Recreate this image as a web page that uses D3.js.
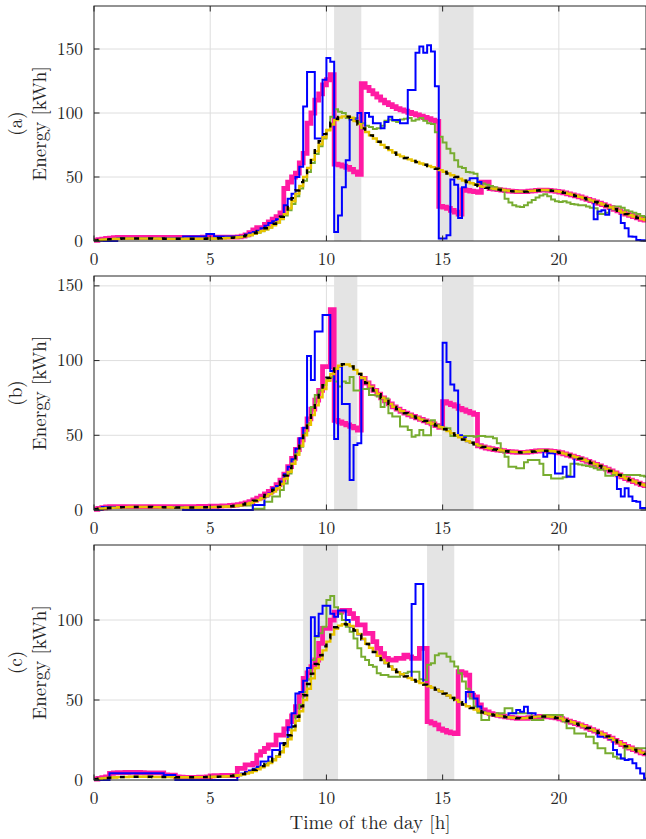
<!DOCTYPE html>
<html>
<head>
<meta charset="utf-8">
<script src="https://cdn.jsdelivr.net/npm/d3@7/dist/d3.min.js"></script>
<style>
  body { margin: 0; background: #fff; }
  svg { display: block; }
</style>
</head>
<body>
<svg id="chart" width="646" height="839"></svg>
<script>
// ---- data: energy per 10-minute interval [kWh], one row per hour ----
const stepHours = 1 / 6;
const xTicks = [0, 5, 10, 15, 20];

// reference forecast (black) and its companion (yellow), shared by all three scenarios
const forecast = [
  0.5, 0.8, 1.1, 1.3, 1.5, 1.7,
  1.8, 1.9, 1.9, 2.0, 2.0, 2.0,
  2.0, 2.0, 2.0, 1.9, 1.9, 1.9,
  1.8, 1.8, 1.8, 1.7, 1.7, 1.7,
  1.7, 1.7, 1.8, 1.8, 1.8, 1.9,
  2.0, 2.0, 2.1, 2.2, 2.3, 2.5,
  2.8, 3.2, 3.7, 4.4, 5.2, 6.3,
  7.5, 8.7, 10.0, 11.5, 13.5, 16.0,
  19, 23, 28, 33.5, 39.5, 46,
  53, 60, 66.5, 72.5, 78, 83.5,
  88.5, 92.5, 95.5, 97, 97.6, 97.2,
  96, 93.5, 91, 88, 85, 82.5,
  80, 77.5, 75, 73, 71, 69,
  67.5, 66, 64.8, 63.7, 62.6, 61.6,
  60.6, 59.6, 58.6, 57.6, 56.5, 55.3,
  54, 52.7, 51.3, 50, 48.6, 47.2,
  46, 45, 44, 43, 42.2, 41.5,
  41, 40.5, 40.1, 39.7, 39.3, 39,
  38.8, 38.6, 38.5, 38.6, 38.9, 39.2,
  39.5, 39.7, 39.7, 39.5, 39.2, 38.8,
  38.3, 37.6, 36.8, 36, 35.2, 34.4,
  33.5, 32.5, 31.5, 30.5, 29.5, 28.4,
  27.3, 26.1, 24.8, 23.5, 22.2, 21,
  20, 19, 18, 17, 16.3, 15.6
];
const forecastAlt = [
  0.4, 0.7, 1.0, 1.3, 1.5, 1.6,
  1.8, 1.8, 1.9, 2.0, 2.0, 2.0,
  2.0, 2.0, 1.9, 1.9, 1.9, 1.8,
  1.8, 1.8, 1.7, 1.7, 1.7, 1.7,
  1.7, 1.7, 1.7, 1.8, 1.8, 1.9,
  1.9, 2.0, 2.1, 2.2, 2.3, 2.4,
  2.7, 3.0, 3.4, 4.0, 4.7, 5.6,
  6.7, 7.9, 9.2, 10.6, 12.3, 14.5,
  17.3, 21, 25.5, 31, 37, 43,
  50, 57, 63.5, 70, 75.5, 81,
  86.5, 91, 94.5, 96.5, 97.4, 97.4,
  96.3, 93.8, 91.3, 88.3, 85.2, 82.6,
  80.1, 77.6, 75.1, 73.1, 71, 69.1,
  67.4, 66.1, 64.8, 63.8, 62.6, 61.7,
  60.6, 59.7, 58.6, 57.7, 56.5, 55.4,
  54.1, 52.8, 51.4, 50.1, 48.7, 47.3,
  46.1, 45.1, 44.1, 43.1, 42.3, 41.6,
  41.1, 40.6, 40.2, 39.8, 39.4, 39.1,
  38.9, 38.7, 38.6, 38.7, 39.0, 39.3,
  39.6, 39.8, 39.8, 39.6, 39.3, 38.9,
  38.4, 37.7, 36.9, 36.1, 35.3, 34.5,
  33.6, 32.6, 31.6, 30.6, 29.6, 28.5,
  27.4, 26.2, 24.9, 23.6, 22.3, 21.1,
  20.1, 19.1, 18.1, 17.1, 16.4, 15.7
];

// scenario (a)
const magentaA = [
  0.5, 1.0, 1.5, 2.0, 2.3, 2.6,
  2.8, 2.8, 2.9, 2.9, 2.9, 2.9,
  2.9, 2.9, 2.9, 2.9, 2.9, 2.9,
  2.9, 2.9, 2.9, 2.9, 2.9, 2.9,
  2.9, 2.9, 2.9, 2.9, 3.0, 3.0,
  3.0, 3.0, 3.0, 3.0, 3.0, 3.0,
  3.0, 3.3, 3.8, 4.8, 6.5, 8.6,
  10.4, 10.4, 13, 15, 17, 19,
  22, 41, 46, 50, 53, 61,
  68.5, 92, 100, 110, 115, 122,
  126, 130, 60, 59.5, 58.5, 57.5,
  56, 54, 52, 123, 120, 117.5,
  115, 112.5, 110, 108, 106.5, 105,
  103.5, 102.5, 101.5, 100.5, 99.5, 98.5,
  97.5, 96.5, 95.5, 94.5, 93.5, 27,
  26.5, 25.5, 24, 22.5, 21, 40,
  39.5, 39, 38.5, 38, 46, 46,
  41, 40.5, 40.1, 39.7, 39.3, 39,
  38.8, 38.6, 38.5, 38.6, 38.9, 39.2,
  39.5, 39.7, 39.7, 39.5, 39.2, 38.8,
  38.3, 37.6, 36.8, 36, 35.2, 34.4,
  33.5, 32.5, 31.5, 30.5, 29.5, 28.4,
  27.3, 26.1, 24.8, 23.5, 22.2, 21,
  20, 19, 18, 17, 16.3, 15.6
];
const blueA = [
  0, 0, 0, 0, 0, 0,
  2.2, 2.2, 2.2, 2.2, 2.2, 2.2,
  2.2, 2.2, 2.2, 2.2, 2.2, 2.2,
  2.2, 2.2, 2.2, 2.2, 2.2, 3.5,
  3.5, 3.5, 3.5, 3.5, 3.5, 5.5,
  5.5, 3.5, 3.5, 3.5, 3.5, 3.5,
  3.5, 3.5, 4.0, 5.0, 6.0, 7.0,
  8.0, 10, 12, 14, 15.5, 17,
  19, 28, 33, 37, 50, 58,
  105, 132, 132, 80, 80, 126,
  143, 140, 7, 20, 42, 63,
  95, 95, 100, 88, 100, 97,
  92, 92, 88, 93, 97, 94.5,
  94.5, 92, 92, 118, 118, 147,
  152, 147, 153, 148, 121, 2,
  2, 4.5, 48, 44, 18, 42,
  47, 49, 49, 46, 42, 42,
  41, 40.5, 40, 39.7, 39.3, 39,
  38.8, 38.6, 38.5, 38.6, 38.9, 39.2,
  39.5, 39.7, 39.7, 39.5, 39.2, 38.8,
  38.3, 37.6, 36.8, 36, 35.2, 34.4,
  33.5, 32.5, 31.5, 17, 23, 24,
  20.5, 25.5, 24.8, 23.5, 14, 10,
  3.5, 3.4, 0.8, 0.5, 0.3, 0.3
];
const greenA = [
  0.5, 0.8, 1.1, 1.4, 1.6, 1.8,
  1.9, 1.9, 2.0, 2.0, 2.0, 2.0,
  2.0, 2.0, 2.0, 1.9, 1.9, 1.9,
  1.8, 1.8, 1.8, 1.7, 1.7, 1.7,
  1.7, 1.7, 1.8, 1.8, 1.8, 1.9,
  2.0, 2.0, 2.1, 2.2, 2.3, 2.5,
  2.5, 2.8, 3.2, 3.8, 4.5, 5.5,
  6.5, 7.6, 9.0, 10.5, 12.5, 14.5,
  17, 20, 24, 29, 35, 41,
  47, 54, 61, 68, 74, 80,
  87, 97, 103, 101, 100, 96,
  94.5, 96, 93, 92, 90, 89,
  87.5, 88, 90, 94, 95, 94,
  93, 95, 95.5, 96, 94, 95,
  96, 94, 92, 91.5, 85, 81.5,
  77, 72, 68.5, 63, 58, 57,
  54, 53.5, 52.5, 46, 45, 44,
  43, 42, 41, 40, 33, 30,
  28, 27, 26.5, 28, 30, 32,
  34, 35.5, 36.5, 35, 32.5, 31,
  30.5, 31, 30, 29, 28.5, 28,
  28, 27, 26, 25.5, 21, 21,
  22, 26, 27, 27, 26, 24,
  23, 22, 21, 19.5, 18.5, 18
];

// scenario (b)
const magentaB = [
  0.5, 1.0, 1.5, 2.0, 2.2, 2.3,
  2.3, 2.3, 2.3, 2.3, 2.3, 2.3,
  2.3, 2.3, 2.3, 2.3, 2.3, 2.3,
  2.3, 2.3, 2.3, 2.3, 2.3, 2.3,
  2.3, 2.3, 2.3, 2.4, 2.4, 2.4,
  2.5, 2.5, 2.6, 2.7, 2.8, 3.0,
  3.2, 3.6, 4.1, 4.8, 5.6, 6.7,
  8.0, 9.3, 10.7, 12.4, 14.5, 17,
  20, 24, 29, 34.5, 40.5, 47,
  54, 61, 67.5, 73.5, 80, 96,
  96, 134, 60, 59, 58, 57,
  56, 55, 53.5, 88, 85, 82.5,
  80, 77.5, 75, 73, 71, 69,
  67.5, 66, 64.8, 63.7, 62.6, 61.6,
  60.6, 59.6, 58.6, 57.6, 56.5, 55.3,
  72.5, 71.5, 70.5, 69.5, 68, 67,
  66, 65, 64, 43, 42.2, 41.5,
  41, 40.5, 40.1, 39.7, 39.3, 39,
  38.8, 38.6, 38.5, 38.6, 38.9, 39.2,
  39.5, 39.7, 39.7, 39.5, 39.2, 38.8,
  38.3, 37.6, 36.8, 36, 35.2, 34.4,
  33.5, 32.5, 31.5, 30.5, 29.5, 28.4,
  27.3, 26.1, 24.8, 23.5, 22.2, 21,
  20, 19, 18, 17, 16.3, 15.6
];
const blueB = [
  0, 0, 2.0, 2.0, 2.0, 2.0,
  2.0, 2.0, 2.0, 2.0, 2.0, 2.0,
  2.0, 2.0, 2.0, 2.0, 2.0, 2.0,
  2.0, 2.0, 2.0, 2.0, 2.0, 0,
  0, 0, 0, 0, 0, 0,
  0, 0, 0, 0, 0, 0,
  0, 0, 0, 0, 0, 3.3,
  3.3, 3.3, 9, 11, 14.5, 16,
  19, 24, 29, 34, 41, 48,
  55, 103, 87, 119.5, 119.5, 130.5,
  130.5, 93, 47.5, 96, 71, 71,
  20, 43.5, 44.6, 88, 85, 82.5,
  80, 77.5, 75, 73, 71, 69,
  67.5, 66, 64.8, 63.7, 62.6, 61.6,
  60.6, 59.6, 58.6, 57.6, 56.5, 55.3,
  112, 99, 84, 80, 50, 48.5,
  46, 45, 44, 43, 42.2, 41.5,
  41, 40.5, 40.1, 39.7, 39.3, 39,
  38.8, 38.6, 38.5, 38.6, 38.9, 39.2,
  39.5, 39.7, 35.7, 38, 38, 24.5,
  24.5, 28.9, 22.3, 22.3, 35.2, 34.4,
  33.5, 32.5, 31.5, 30.5, 29.5, 28.4,
  27.3, 26.1, 24.8, 14, 9, 14.5,
  9, 6, 5.5, 1.3, 1.3, 1.0
];
const greenB = [
  0.5, 0.8, 1.1, 1.3, 1.5, 1.7,
  1.8, 1.9, 1.9, 2.0, 2.0, 2.0,
  2.0, 2.0, 2.0, 1.9, 1.9, 1.9,
  1.8, 1.8, 1.8, 1.7, 1.7, 1.7,
  1.7, 1.7, 1.8, 1.8, 1.8, 1.9,
  2.0, 2.0, 2.1, 2.2, 2.3, 2.5,
  2.7, 2.9, 3.0, 3.0, 3.0, 0.8,
  0.8, 0.8, 5.6, 5.6, 9, 9,
  13.4, 17.8, 24.5, 33.5, 38, 42.4,
  51.3, 58, 69, 77, 80, 83.7,
  87, 89, 86, 82.6, 86, 85,
  89, 80, 80, 81, 81, 77,
  77, 76, 69, 74.7, 64.7, 62.5,
  62.5, 55.8, 55.8, 53.5, 49, 50,
  53.5, 50, 50, 60, 57, 55.8,
  55, 54.7, 49.5, 49.5, 49.5, 49.5,
  49.5, 49.5, 49, 49.5, 49.5, 49,
  49, 48, 44.6, 39, 35.7, 29,
  29, 28, 28, 32, 33.5, 33.5,
  33.5, 31, 23.4, 23.4, 21, 21,
  21, 22, 23, 31, 31, 30.5,
  30, 29.5, 29, 28, 27, 27,
  23, 23, 23.5, 23.5, 23.4, 23.4,
  23.4, 23.4, 23.4, 23, 22.5, 22.3
];

// scenario (c)
const magentaC = [
  0.5, 1.0, 1.5, 2.0, 4.2, 4.4,
  4.6, 4.6, 4.7, 4.8, 4.8, 4.7,
  4.6, 4.5, 4.5, 4.4, 4.4, 4.4,
  3.2, 3.1, 3.0, 2.0, 1.8, 1.7,
  1.7, 1.7, 1.7, 1.8, 1.8, 1.9,
  2.6, 2.7, 2.7, 2.8, 2.8, 2.8,
  2.8, 7.3, 7.3, 9.4, 9.4, 10.4,
  15.6, 17.7, 19.8, 21.9, 21.9, 28,
  28, 32, 36.5, 40, 45.8, 53,
  63.5, 67, 70.8, 75, 85.4, 94.8,
  94.8, 100, 105, 105, 106, 106,
  104, 101, 97, 97, 91.7, 91.7,
  86.5, 82.3, 79, 76, 75, 75,
  76, 76, 78, 77, 76, 76,
  82.3, 82.3, 36.5, 35.5, 34.4, 32,
  31, 30, 29.5, 29, 67.7, 67,
  65.6, 53, 52, 46.9, 43.75, 42.5,
  41.5, 40.9, 40.4, 39.9, 39.4, 39.1,
  38.8, 38.6, 38.5, 38.6, 38.9, 39.2,
  39.5, 39.7, 39.7, 39.5, 39.2, 38.8,
  38.3, 37.6, 36.8, 36, 35.2, 34.4,
  33.5, 32.5, 31.5, 30.5, 29.5, 28.4,
  27.3, 26.1, 24.8, 23.5, 22.2, 21,
  20, 19, 18, 17, 16.3, 15.6
];
const blueC = [
  0, 0, 0, 0, 4.2, 4.2,
  4.2, 4.2, 4.2, 4.2, 4.2, 4.2,
  4.2, 4.2, 4.2, 4.2, 4.2, 4.2,
  3.1, 3.1, 3.1, 0, 0, 0,
  0, 0, 0, 0, 0, 0,
  0, 0, 0, 0, 0, 0,
  0, 3, 4, 5, 6, 7,
  8.3, 11.5, 11.5, 14.6, 18.75, 18.75,
  23, 23, 33, 41.7, 54, 55,
  62, 70, 101.7, 90, 104, 109,
  109, 104, 102, 106, 106, 100,
  96, 93.5, 91, 88, 85, 82.5,
  80, 77.5, 75, 73, 71, 69,
  67.5, 66, 64.8, 63.7, 110, 122.5,
  122.5, 59.6, 58.6, 57.6, 56.5, 55.3,
  54, 52.7, 51.3, 50, 48.6, 47.2,
  55, 55, 51, 46, 42.7, 41.5,
  41, 40.5, 40.1, 39.7, 39.3, 41.7,
  41.7, 43.75, 42.7, 45.8, 41.7, 41.7,
  39.5, 39.7, 39.7, 39.5, 39.2, 38.8,
  38.3, 37.6, 36.8, 36, 35.2, 34.4,
  33.5, 32.5, 31.5, 30.5, 27, 27,
  27, 25.5, 18.75, 16, 13.5, 12.5,
  13, 10.4, 7.3, 4, 1, 1
];
const greenC = [
  0.5, 0.8, 1.1, 1.3, 1.5, 1.7,
  1.8, 1.9, 1.9, 2.0, 2.0, 2.0,
  2.0, 2.0, 2.0, 1.9, 1.9, 1.9,
  1.8, 1.8, 1.8, 1.7, 1.7, 1.7,
  1.7, 1.7, 1.8, 1.8, 1.8, 1.9,
  2.0, 2.0, 2.1, 2.2, 2.3, 2.5,
  2.8, 3.2, 3.8, 4.5, 5.3, 6.3,
  7.5, 8.5, 10, 11.5, 13, 15,
  18, 22, 27, 33, 40, 47,
  55, 63, 75, 89.6, 91.7, 95.8,
  112.5, 115, 108, 104, 100, 95.8,
  92.7, 88.5, 82.3, 77, 75, 71.9,
  70.8, 66.7, 65.6, 65.6, 64.6, 64.6,
  64.6, 66, 66.7, 67.7, 67.7, 67.7,
  63, 62.5, 72, 73, 78, 79,
  79, 77, 74, 71, 66.7, 61.5,
  57, 51, 46, 42, 37.5, 37.5,
  40.6, 41, 41.7, 41.7, 44.8, 44.8,
  41.7, 41.7, 41.7, 41.7, 41.7, 37.5,
  37.5, 37.5, 40.6, 40.6, 40.6, 40.6,
  40.6, 36.5, 32.3, 32.3, 29, 29,
  29, 27, 27, 23, 19.8, 19.8,
  16.7, 16.7, 14.6, 13.5, 13.5, 19.8,
  19.8, 19.8, 19.8, 19.8, 19.8, 19.8
];

// shaded event windows [start h, end h]
const windowsA = [[10.33, 11.5], [14.83, 16.33]];
const windowsB = [[10.33, 11.33], [15.0, 16.33]];
const windowsC = [[9.0, 10.5], [14.33, 15.5]];

const tagA = "(a)", tagB = "(b)", tagC = "(c)";
const yTicksA = [0, 50, 100, 150], yTicksB = [0, 50, 100, 150], yTicksC = [0, 50, 100];
const yMaxA = 183.6, yMaxB = 156.6, yMaxC = 146.9;

// ---- layout ----
const left = 94, right = 646;
const panels = [
  { tag: tagA, top: 6,   bottom: 241, yMax: yMaxA, yTicks: yTicksA, windows: windowsA, magenta: magentaA, blue: blueA, green: greenA },
  { tag: tagB, top: 276, bottom: 510, yMax: yMaxB, yTicks: yTicksB, windows: windowsB, magenta: magentaB, blue: blueB, green: greenB },
  { tag: tagC, top: 545, bottom: 780, yMax: yMaxC, yTicks: yTicksC, windows: windowsC, magenta: magentaC, blue: blueC, green: greenC }
];

const svg = d3.select("#chart");
const x = d3.scaleLinear().domain([0, 23.75]).range([left, right]);
const axisColor = "#262626";
const tickLen = 5.5;
const serif = "Latin Modern Roman";
const tickSize = 17.3, labelSize = 19;

panels.forEach((p, pi) => {
  const y = d3.scaleLinear().domain([0, p.yMax]).range([p.bottom, p.top]);
  const g = svg.append("g");

  const clipId = "clip" + pi;
  g.append("clipPath").attr("id", clipId).append("rect")
    .attr("x", left).attr("y", p.top).attr("width", right - left).attr("height", p.bottom - p.top + 2);

  // grid
  const grid = g.append("g").attr("stroke", "#dedede").attr("stroke-width", 1);
  xTicks.filter(t => t > 0).forEach(t => {
    grid.append("line").attr("x1", x(t)).attr("x2", x(t)).attr("y1", p.top).attr("y2", p.bottom);
  });
  p.yTicks.filter(v => v > 0).forEach(v => {
    grid.append("line").attr("x1", left).attr("x2", right).attr("y1", y(v)).attr("y2", y(v));
  });

  // event windows
  g.append("g").selectAll("rect").data(p.windows).join("rect")
    .attr("x", d => x(d[0])).attr("width", d => x(d[1]) - x(d[0]))
    .attr("y", p.top).attr("height", p.bottom - p.top)
    .attr("fill", "#e4e4e4");

  const stairs = d3.line()
    .x((d, i) => x(i * stepHours))
    .y(d => y(d))
    .curve(d3.curveStepAfter);

  const lines = g.append("g").attr("clip-path", `url(#${clipId})`).attr("fill", "none")
    .attr("stroke-linejoin", "miter").attr("stroke-linecap", "butt");

  lines.append("path").datum(p.magenta).attr("d", stairs)
    .attr("stroke", "#ff1aa3").attr("stroke-width", 4.8);
  lines.append("path").datum(p.green).attr("d", stairs)
    .attr("stroke", "#77ac30").attr("stroke-width", 2);
  lines.append("path").datum(p.blue).attr("d", stairs)
    .attr("stroke", "#0000ff").attr("stroke-width", 2);
  lines.append("path").datum(forecastAlt).attr("d", stairs)
    .attr("stroke", "#e8c300").attr("stroke-width", 2.4);
  lines.append("path").datum(forecast).attr("d", stairs)
    .attr("stroke", "#000").attr("stroke-width", 2.4).attr("stroke-dasharray", "5,9");

  // axes box
  const ax = g.append("g").attr("stroke", axisColor).attr("stroke-width", 1);
  ax.append("rect").attr("x", left).attr("y", p.top).attr("width", right - left).attr("height", p.bottom - p.top)
    .attr("fill", "none");
  xTicks.forEach(t => {
    ax.append("line").attr("x1", x(t)).attr("x2", x(t)).attr("y1", p.bottom).attr("y2", p.bottom - tickLen);
    ax.append("line").attr("x1", x(t)).attr("x2", x(t)).attr("y1", p.top).attr("y2", p.top + tickLen);
  });
  p.yTicks.forEach(v => {
    ax.append("line").attr("x1", left).attr("x2", left + tickLen).attr("y1", y(v)).attr("y2", y(v));
    ax.append("line").attr("x1", right).attr("x2", right - tickLen).attr("y1", y(v)).attr("y2", y(v));
  });

  // tick labels
  g.append("g").selectAll("text").data(xTicks).join("text")
    .attr("x", d => x(d)).attr("y", p.bottom + 24)
    .attr("text-anchor", "middle").attr("font-family", serif).attr("font-size", tickSize)
    .attr("fill", axisColor).text(d => d);
  g.append("g").selectAll("text").data(p.yTicks).join("text")
    .attr("x", left - 11).attr("y", d => y(d) + 5.5)
    .attr("text-anchor", "end").attr("font-family", serif).attr("font-size", tickSize)
    .attr("fill", axisColor).text(d => d);

  // y labels
  const cy = (p.top + p.bottom) / 2;
  g.append("text").attr("transform", `translate(21.5,${cy}) rotate(-90)`)
    .attr("text-anchor", "middle").attr("font-family", serif).attr("font-size", labelSize)
    .attr("fill", axisColor).text(p.tag);
  g.append("text").attr("transform", `translate(46,${cy}) rotate(-90)`)
    .attr("text-anchor", "middle").attr("font-family", serif).attr("font-size", labelSize)
    .attr("fill", axisColor).text("Energy [kWh]");
});

svg.append("text").attr("x", (left + right) / 2).attr("y", 829)
  .attr("text-anchor", "middle").attr("font-family", serif).attr("font-size", labelSize)
  .attr("fill", axisColor).text("Time of the day [h]");
</script>
</body>
</html>
